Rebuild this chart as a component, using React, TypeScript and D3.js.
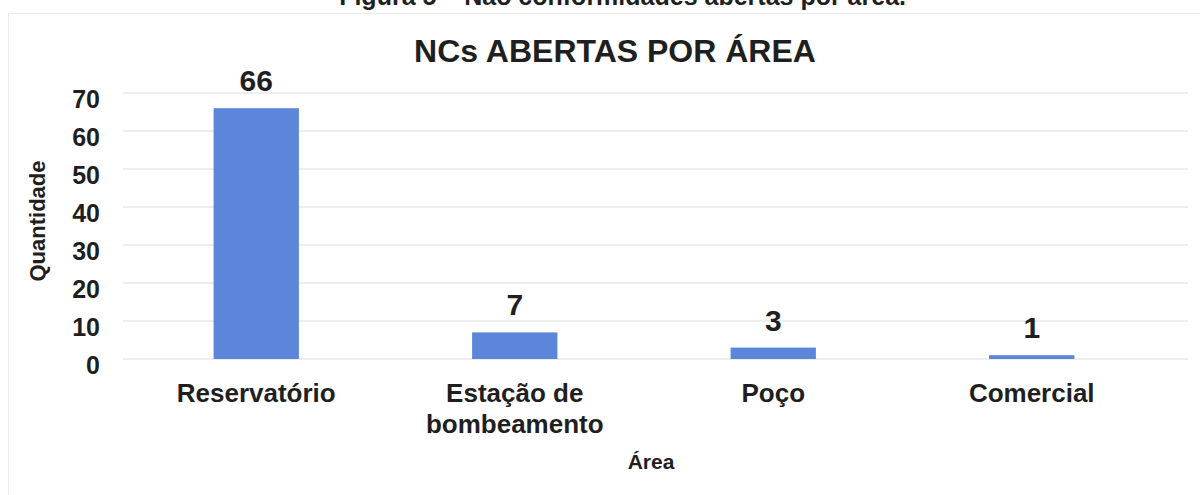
import React from "react";
import * as d3 from "d3";

const categories: string[][] = [["Reservatório"], ["Estação de", "bombeamento"], ["Poço"], ["Comercial"]];
const values: number[] = [66, 7, 3, 1];
const yTicks: number[] = [0, 10, 20, 30, 40, 50, 60, 70];
const title = "NCs ABERTAS POR ÁREA";
const caption = "Figura 5 – Não conformidades abertas por área.";
const yTitle = "Quantidade";
const xTitle = "Área";

const W = 1200;
const H = 495;
const FONT = "'Liberation Sans', Arial, sans-serif";
const TXT = "#1f1f1f";
const BAR = "#5b86d9";

export default function App() {
  const keys = categories.map((c) => c.join(" "));
  const x = d3.scaleBand<string>().domain(keys).range([127, 1161]).paddingInner(0.67).paddingOuter(0.335);
  const y = d3.scaleLinear().domain([0, 70]).range([359, 93]);
  const gridX0 = 123;
  const gridX1 = 1188;

  return (
    <svg width={W} height={H} style={{ position: "absolute", left: 0, top: 0, background: "#fff" }} fontFamily={FONT}>
      <rect x={0} y={0} width={W} height={H} fill="#ffffff" />
      {/* caption, cut by the top edge as in the scan */}
      <text x={906} y={5} textAnchor="end" fontSize={25} fontWeight="bold" fill={TXT}>
        {caption}
      </text>
      {/* chart border */}
      <rect x={8.5} y={13.5} width={1200} height={520} fill="none" stroke="#d4d4d4" strokeWidth={1} strokeDasharray="1 1" />
      {/* title */}
      <text x={615} y={62} textAnchor="middle" fontSize={32} fontWeight="bold" fill={TXT}>
        {title}
      </text>
      {/* gridlines */}
      {yTicks.map((t) => (
        <line key={t} x1={gridX0} x2={gridX1} y1={y(t)} y2={y(t)} stroke="#dcdcdc" strokeWidth={1} />
      ))}
      {/* y tick labels */}
      {yTicks.map((t) => (
        <text key={"l" + t} x={100} y={y(t) + 6} dy="0.35em" textAnchor="end" fontSize={25} fontWeight="bold" fill={TXT}>
          {t}
        </text>
      ))}
      {/* y title */}
      <text transform={`translate(45,221) rotate(-90)`} textAnchor="middle" fontSize={22} fontWeight="bold" fill={TXT}>
        {yTitle}
      </text>
      {/* bars */}
      {values.map((v, i) => {
        const k = keys[i];
        const bx = x(k) as number;
        return (
          <g key={k}>
            <rect x={bx} y={y(v)} width={x.bandwidth()} height={y(0) - y(v)} fill={BAR} />
            <text x={bx + x.bandwidth() / 2} y={y(v) - 17} textAnchor="middle" fontSize={30} fontWeight="bold" fill={TXT}>
              {v}
            </text>
          </g>
        );
      })}
      {/* category labels */}
      {categories.map((lines, i) => {
        const cx = (x(keys[i]) as number) + x.bandwidth() / 2;
        return (
          <text key={"c" + i} x={cx} y={402} textAnchor="middle" fontSize={26} fontWeight="bold" fill={TXT}>
            {lines.map((ln, j) => (
              <tspan key={j} x={cx} dy={j === 0 ? 0 : 31}>
                {ln}
              </tspan>
            ))}
          </text>
        );
      })}
      {/* x title */}
      <text x={651} y={469} textAnchor="middle" fontSize={21} fontWeight="bold" fill={TXT}>
        {xTitle}
      </text>
    </svg>
  );
}
